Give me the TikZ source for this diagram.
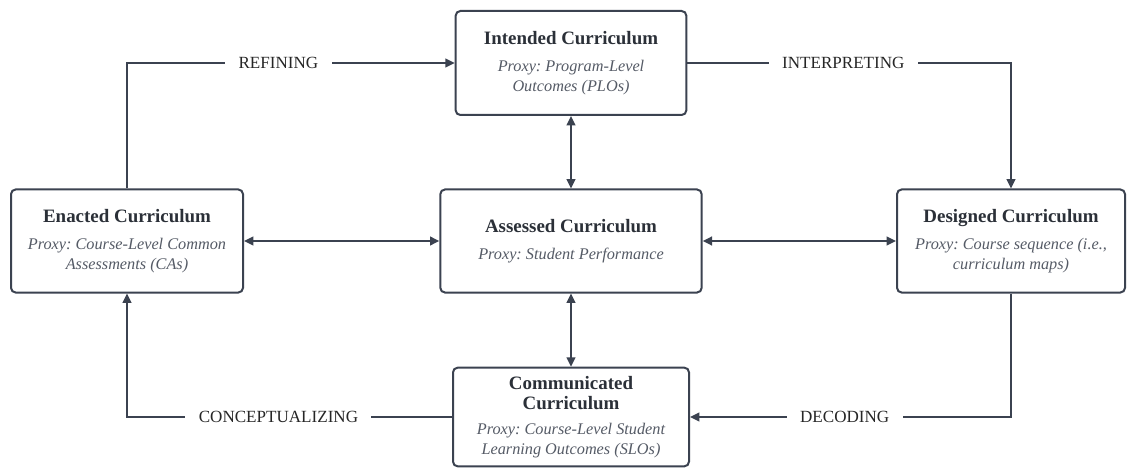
\documentclass[tikz,border=0pt]{standalone}
\usepackage{fontspec}
\setmainfont{Liberation Serif}
\usetikzlibrary{arrows.meta, positioning, calc}
\definecolor{edgeslate}{HTML}{3B4250}
\definecolor{titleink}{HTML}{2B3038}
\definecolor{proxyink}{HTML}{555B66}
\tikzset{
  stagebox/.style = {draw=edgeslate, line width=1.5pt, rounded corners=3.5pt,
                     fill=white, align=center},
}
\newcommand{\stagetitle}[1]{{\fontsize{14.2pt}{16pt}\selectfont\bfseries\color{titleink}#1}}
\newcommand{\stageproxy}[1]{{\itshape\color{proxyink}#1}}
\frenchspacing

\begin{document}
\begin{tikzpicture}[
    x=0.75pt, y=-0.75pt,
    >={Triangle[length=7pt, width=6.5pt]},
    every node/.style ={font=\fontsize{12.2pt}{15pt}\selectfont},
    stage/.style  ={stagebox, inner sep=0pt, minimum height=77.3pt},
    verb/.style   ={fill=white, inner xsep=10pt, inner ysep=2pt, text=black!85,
                    font=\fontsize{12.8pt}{15pt}\selectfont},
    flow/.style   ={->, line width=1.5pt, draw=edgeslate},
    link/.style   ={<->, line width=1.5pt, draw=edgeslate}
  ]
  \path[fill=white, use as bounding box] (0,0) rectangle (1127,470);

  %% --- Curriculum stages ----------------------------------------------
  \node[stage, minimum width=173pt, minimum height=78pt] (intended) at (571,63)
      {\stagetitle{Intended Curriculum}\\[5pt]
       \stageproxy{Proxy: Program-Level}\\ \stageproxy{Outcomes (PLOs)}};
  \node[stage, minimum width=174pt] (enacted) at (127,241)
      {\stagetitle{Enacted Curriculum}\\[5pt]
       \stageproxy{Proxy: Course-Level Common}\\ \stageproxy{Assessments (CAs)}};
  \node[stage, minimum width=196pt] (assessed) at (571,241)
      {\stagetitle{Assessed Curriculum}\\[5pt]
       \stageproxy{Proxy: Student Performance}};
  \node[stage, minimum width=171pt] (designed) at (1011,241)
      {\stagetitle{Designed Curriculum}\\[5pt]
       \stageproxy{Proxy: Course sequence (i.e.,}\\ \stageproxy{curriculum maps)}};
  \node[stage, minimum width=177pt, minimum height=74pt] (communicated) at (571,417)
      {\stagetitle{Communicated}\\ \stagetitle{Curriculum}\\[4pt]
       \stageproxy{Proxy: Course-Level Student}\\ \stageproxy{Learning Outcomes (SLOs)}};

  %% --- Outer cycle (labelled) -----------------------------------------
  \draw[flow] (enacted.north) |- node[verb, pos=0.731] {REFINING} (intended.west);
  \draw[flow] (intended.east) -| node[verb, pos=0.241] {INTERPRETING} (designed.north);
  \draw[flow] (designed.south) |- node[verb, pos=0.759] {DECODING} (communicated.east);
  \draw[flow] (communicated.west) -| node[verb, pos=0.267] {CONCEPTUALIZING} (enacted.south);

  %% --- Links to the assessed curriculum (both ways) --------------------
  \foreach \n in {intended,communicated,enacted,designed}
      \draw[link] (assessed) -- (\n);
\end{tikzpicture}
\end{document}
